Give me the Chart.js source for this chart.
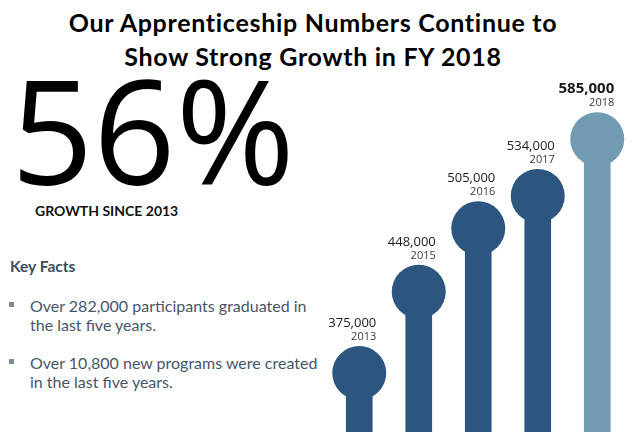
<!DOCTYPE html>
<html>
<head>
<meta charset="utf-8">
<script src="https://cdn.jsdelivr.net/npm/chart.js@4"></script>
<style>
  html, body { margin: 0; padding: 0; background: #fff; }
  body { width: 640px; height: 432px; position: relative; overflow: hidden; }
  .abs { position: absolute; white-space: nowrap; }
  .title { left: 0; width: 626px; text-align: center; font-family: Lato, sans-serif; font-weight: 700; font-size: 25px; letter-spacing: 0.7px; line-height: 34px; color: #000; }
  .big { left: 11px; top: 57px; font-family: "Open Sans", sans-serif; font-weight: 400; font-size: 144px; line-height: 144px; color: #000; }
  .growth { left: 35px; top: 204px; font-family: Lato, sans-serif; font-weight: 700; font-size: 14px; line-height: 14px; color: #111; }
  .kf { left: 10px; top: 259px; font-family: Lato, sans-serif; font-weight: 700; font-size: 15.5px; line-height: 15px; color: #3b4c5c; }
  .fact { left: 30px; font-family: Lato, sans-serif; font-size: 16px; line-height: 19px; color: #46566a; }
  .sq { position: absolute; width: 5px; height: 5px; background: #7d8894; }
  #wrap { position: absolute; left: 320px; top: 0; width: 320px; height: 432px; }
</style>
</head>
<body>
<div class="abs title" style="top:5px">Our Apprenticeship Numbers Continue to</div>
<div class="abs title" style="top:39px">Show Strong Growth in FY 2018</div>
<div class="abs big">56%</div>
<div class="abs growth">GROWTH SINCE 2013</div>
<div class="abs kf">Key Facts</div>
<span class="sq" style="left:9px; top:302px"></span>
<div class="abs fact" style="top:296px">Over 282,000 participants graduated in<br>the last five years.</div>
<span class="sq" style="left:9px; top:359px"></span>
<div class="abs fact" style="top:353px">Over 10,800 new programs were created<br>in the last five years.</div>

<div id="wrap"><canvas id="chart"></canvas></div>

<script>
const years = ['2013', '2015', '2016', '2017', '2018'];
const apprentices = [375000, 448000, 505000, 534000, 585000];
const colors = ['#2c5680', '#2c5680', '#2c5680', '#2c5680', '#709bb3'];

const lollipopLabels = {
  id: 'lollipopLabels',
  afterDatasetsDraw(chart) {
    const ctx = chart.ctx;
    const meta = chart.getDatasetMeta(0);
    ctx.save();
    ctx.textAlign = 'right';
    ctx.textBaseline = 'alphabetic';
    meta.data.forEach((pt, i) => {
      const last = i === years.length - 1;
      const top = pt.y - 27;
      ctx.fillStyle = '#1a1a1a';
      ctx.font = last ? 'bold 15px "Open Sans"' : '13px "Open Sans"';
      ctx.fillText(apprentices[i].toLocaleString('en-US'), pt.x + 17, top - 19);
      ctx.fillStyle = '#3a3a3a';
      ctx.font = '11px "Open Sans"';
      ctx.fillText(years[i], pt.x + 17, top - 6);
    });
    ctx.restore();
  }
};

new Chart(document.getElementById('chart'), {
  data: {
    labels: years,
    datasets: [
      {
        type: 'line',
        data: apprentices,
        showLine: false,
        pointRadius: 27,
        pointHoverRadius: 27,
        pointBorderWidth: 0,
        pointBackgroundColor: colors,
        clip: false,
        order: 0
      },
      {
        type: 'bar',
        data: apprentices,
        backgroundColor: colors,
        barThickness: 26,
        order: 1
      }
    ]
  },
  options: {
    responsive: true,
    maintainAspectRatio: false,
    animation: false,
    layout: { autoPadding: false, padding: { left: 9.5, right: 13, top: 0, bottom: 0 } },
    scales: {
      x: { display: false },
      y: { display: false, min: 322000, max: 710000 }
    },
    plugins: {
      legend: { display: false },
      tooltip: { enabled: false }
    }
  },
  plugins: [lollipopLabels]
});
</script>
</body>
</html>
